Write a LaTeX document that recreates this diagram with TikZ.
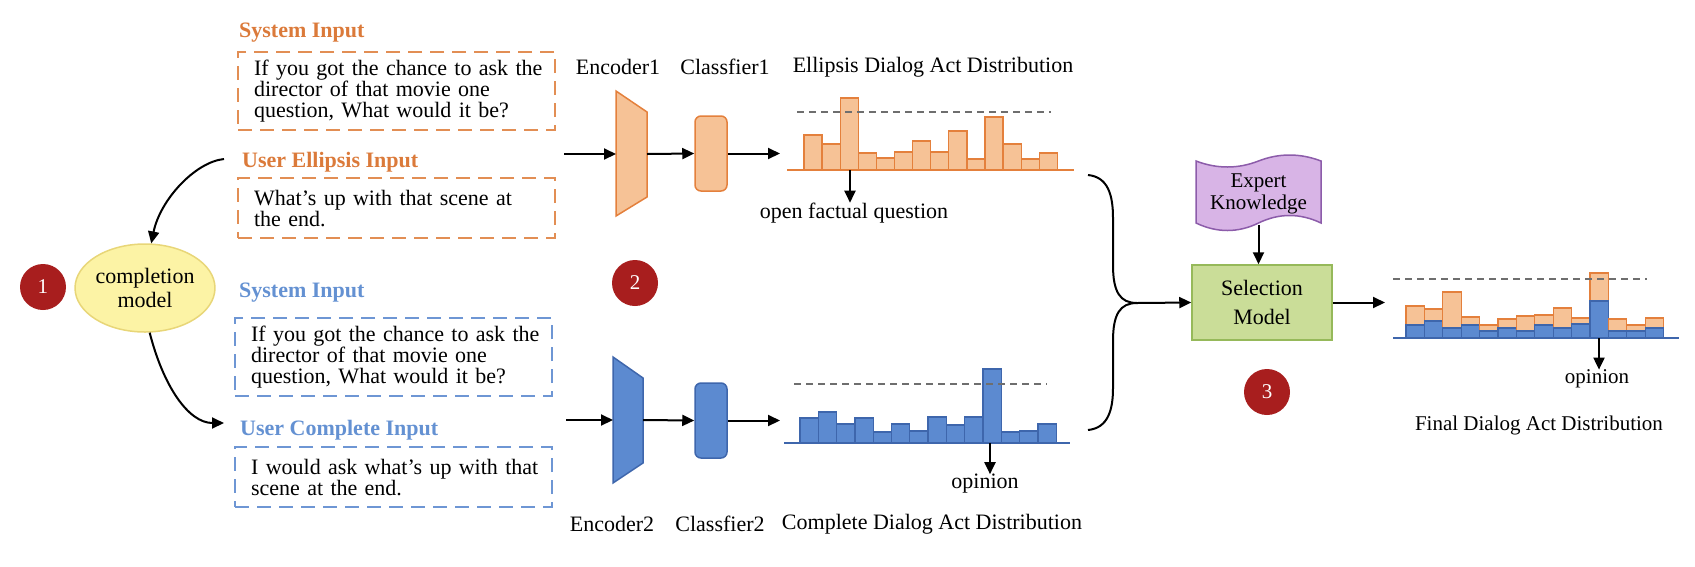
\documentclass[tikz,border=0pt]{standalone}
\usepackage{fontspec}
\setmainfont{Liberation Serif}
\usetikzlibrary{arrows.meta,shapes.geometric}

\definecolor{orlab}{RGB}{219,122,58}
\definecolor{orbox}{RGB}{226,142,84}
\definecolor{orfill}{RGB}{246,194,150}
\definecolor{oredge}{RGB}{228,128,60}
\definecolor{bllab}{RGB}{100,145,210}
\definecolor{blbox}{RGB}{110,150,212}
\definecolor{blfill}{RGB}{92,138,208}
\definecolor{bledge}{RGB}{62,102,172}
\definecolor{numred}{RGB}{168,30,30}
\definecolor{ellfill}{RGB}{252,243,165}
\definecolor{elledge}{RGB}{232,214,120}
\definecolor{selfill}{RGB}{202,221,152}
\definecolor{seledge}{RGB}{150,185,90}
\definecolor{expfill}{RGB}{216,180,230}
\definecolor{expedge}{RGB}{140,92,170}
\definecolor{dashgray}{RGB}{110,110,110}

\tikzset{
  txt/.style={font=\fontsize{22}{21}\selectfont, inner sep=0pt},
  smalltxt/.style={font=\fontsize{21}{21}\selectfont, inner sep=0pt},
  lab/.style={font=\fontsize{22}{21}\selectfont\bfseries, anchor=west, inner sep=0pt},
  inbox/.style={line width=2.2pt, dash pattern=on 14pt off 8pt, text width=285pt,
    inner xsep=16pt, inner ysep=0pt, align=left, anchor=north west,
    font=\fontsize{22}{21}\selectfont, text=black},
  conn/.style={line width=2pt, -{Triangle[length=12pt,width=11pt]}},
  numc/.style={circle, fill=numred, text=white, minimum size=46pt, inner sep=0pt,
    font=\fontsize{21}{21}\selectfont},
  orbar/.style={fill=orfill, draw=oredge, line width=1.3pt},
  blbar/.style={fill=blfill, draw=bledge, line width=1.3pt},
  thresh/.style={dashgray, line width=1.3pt, dash pattern=on 7pt off 5pt},
  clsbox/.style={rectangle, rounded corners=6pt, line width=1.5pt, minimum width=32pt, minimum height=75pt, inner sep=0pt},
  area/.style={inner sep=0pt, minimum width=294pt, minimum height=60pt, anchor=south west}
}

\begin{document}
\begin{tikzpicture}[x=1pt,y=-1pt]
\useasboundingbox (0,0) rectangle (1695,566);

% ---------- input boxes ----------
\node[lab, text=orlab] (sys1) at (239,33) {System Input};
\node[inbox, draw=orbox, minimum height=78pt] (box1) at (237,51)
  {\mbox{If you got the chance to ask the}\\\mbox{director of that movie one}\\\mbox{question, What would it be?}};
\node[lab, text=orlab] (ue) at (242,162) {User Ellipsis Input};
\node[inbox, draw=orbox, minimum height=60pt] (box2) at (237,177)
  {\mbox{What’s up with that scene at}\\\mbox{the end.}};

\node[lab, text=bllab] (sys2) at (239,293) {System Input};
\node[inbox, draw=blbox, minimum height=78pt] (box3) at (234,317)
  {\mbox{If you got the chance to ask the}\\\mbox{director of that movie one}\\\mbox{question, What would it be?}};
\node[lab, text=bllab] (uc) at (240,430) {User Complete Input};
\node[inbox, draw=blbox, minimum height=60pt] (box4) at (234,446)
  {\mbox{I would ask what’s up with that}\\\mbox{scene at the end.}};

% ---------- completion model ----------
\node[numc] (n1) at (43,287) {1};
\node[ellipse, fill=ellfill, draw=elledge, line width=1.5pt, minimum width=136pt, minimum height=88pt,
  align=center, inner sep=0pt, font=\fontsize{22}{24}\selectfont] (cm) at (145,288) {completion\\model};
\path (ue.west) ++(-18,-3) coordinate (uestart);
\path (uc.west) ++(-16,-7) coordinate (ucend);
\draw[conn] (uestart) .. controls (195,162) and (160,200) .. (cm.82);
\draw[conn] (cm.-84) .. controls (163,385) and (188,423) .. (ucend);

% ---------- encoders / classifiers ----------
\node[txt] (e1l) at (618,67) {Encoder1};
\node[txt] (c1l) at (725,67) {Classfier1};
\node[txt] (d1l) at (933,67) {Ellipsis Dialog Act Distribution};

\draw[fill=orfill, draw=oredge, line width=1.5pt] (616,91) -- (647,112) -- (647,197) -- (616,216) -- cycle;
\coordinate (in1) at (564,154);
\coordinate (enc1w) at (616,154);
\coordinate (enc1e) at (647,154);
\node[clsbox, fill=orfill, draw=oredge] (cls1) at (711,153.5) {};
\node[area] (hist1) at (780,170) {};
\draw[conn] (in1) -- (enc1w);
\draw[conn] (enc1e) -- (cls1.west);
\draw[conn] (cls1.east) -- (cls1.east -| hist1.west);

\foreach \h [count=\i from 0] in {35,26,72,17,12,18,29,18,39,11,53,26,11,17}
  \draw[orbar] ({804+\i*18.1},170) rectangle ++(18.1,-\h);
\draw[oredge, line width=2pt] (787,170) -- (1074,170);
\draw[thresh] (797,112) -- (1051,112);
\coordinate (pk1) at (850,170);
\node[txt] (oq) at (854,213) {open factual question};
\draw[conn] (pk1) -- (oq.north -| pk1);

\node[numc] (n2) at (635,283) {2};

\draw[fill=blfill, draw=bledge, line width=1.5pt] (613,357) -- (643,378) -- (643,463) -- (613,483) -- cycle;
\coordinate (in2) at (566,420);
\coordinate (enc2w) at (613,420);
\coordinate (enc2e) at (643,420);
\node[clsbox, fill=blfill, draw=bledge] (cls2) at (711,420.5) {};
\node[area] (hist2) at (780,443) {};
\draw[conn] (in2) -- (enc2w);
\draw[conn] (enc2e) -- (cls2.west);
\draw[conn] (cls2.east) -- (cls2.east -| hist2.west);

\foreach \h [count=\i from 0] in {25,31,19,25,11,19,12,26,18,26,74,11,12,19}
  \draw[blbar] ({800+\i*18.3},443) rectangle ++(18.3,-\h);
\draw[bledge, line width=2pt] (784,443) -- (1070,443);
\draw[thresh] (794,384) -- (1047,384);
\coordinate (pk2) at (990,443);
\node[txt] (op2) at (985,484) {opinion};
\draw[conn] (pk2) -- (op2.north -| pk2);

\node[txt] (e2l) at (612,524) {Encoder2};
\node[txt] (c2l) at (720,524) {Classfier2};
\node[txt] (d2l) at (932,524) {Complete Dialog Act Distribution};

% ---------- selection ----------
\coordinate (b1) at (1088,175);
\coordinate (b2) at (1088,430);
\coordinate (j) at (1137,303);
\draw[line width=2pt] (b1) .. controls (1108,177) and (1113,195) .. (1113,218) -- (1113,265)
  .. controls (1113,292) and (1120,303) .. (j);
\draw[line width=2pt] (b2) .. controls (1108,428) and (1113,410) .. (1113,388) -- (1113,341)
  .. controls (1113,314) and (1120,303) .. (j);

\node[rectangle, fill=selfill, draw=seledge, line width=1.5pt, minimum width=140pt, minimum height=75pt,
  align=center, inner sep=0pt, font=\fontsize{22}{29}\selectfont] (sel) at (1262,302.5) {Selection\\Model};
\draw[conn] (j) -- (sel.west);

\draw[fill=expfill, draw=expedge, line width=1.5pt]
  (1196,161) .. controls (1217,169) and (1238,169) .. (1258.5,161)
  .. controls (1279,153) and (1300,153) .. (1321,161) -- (1321,223)
  .. controls (1300,213) and (1279,213) .. (1258.5,223)
  .. controls (1238,233) and (1217,233) .. (1196,223) -- cycle;
\node[align=center, inner sep=0pt, minimum height=62pt, font=\fontsize{21}{22}\selectfont] (exp) at (1258.5,194) {Expert\\Knowledge};
\draw[conn] (exp.south) -- (sel.north -| exp.south);

\node[numc] (n3) at (1267,392) {3};

% ---------- final ----------
\node[area] (hist3) at (1385,338) {};
\draw[conn] (sel.east) -- (sel.east -| hist3.west);
\foreach \ho/\hb [count=\i from 0] in {32/13,29/17,46/10,21/13,13/7,19/10,22/7,23/13,30/10,20/14,65/37,19/7,13/7,20/10}{
  \draw[orbar] ({1406+\i*18.4},338) rectangle ++(18.4,-\ho);
  \draw[blbar] ({1406+\i*18.4},338) rectangle ++(18.4,-\hb);
}
\draw[bledge, line width=2pt] (1393,338) -- (1679,338);
\draw[thresh] (1393,279) -- (1647,279);
\coordinate (pk3) at (1599,338);
\node[smalltxt] (op3) at (1597,379) {opinion};
\draw[conn] (pk3) -- (op3.north -| pk3);
\node[smalltxt] (fl) at (1539,425) {Final Dialog Act Distribution};
\end{tikzpicture}
\end{document}
